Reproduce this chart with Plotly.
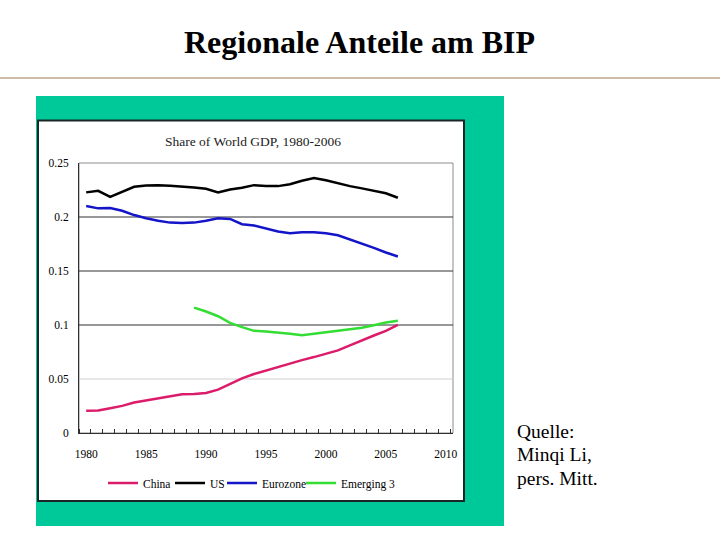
import plotly.graph_objects as go

years = list(range(1980, 2007))
china = [0.0205, 0.0208, 0.0230, 0.0251, 0.0282, 0.0303, 0.0319, 0.0340, 0.0359, 0.0362,
         0.0371, 0.0402, 0.0454, 0.0506, 0.0546, 0.0580, 0.0614, 0.0648, 0.0675, 0.0703,
         0.0731, 0.0765, 0.0811, 0.0860, 0.0903, 0.0946, 0.1002]
us = [0.2228, 0.2243, 0.2187, 0.2233, 0.2280, 0.2292, 0.2295, 0.2289, 0.2283, 0.2274,
      0.2261, 0.2228, 0.2255, 0.2270, 0.2295, 0.2286, 0.2286, 0.2304, 0.2335, 0.2360,
      0.2340, 0.2310, 0.2286, 0.2265, 0.2243, 0.2220, 0.2178]
eurozone = [0.2101, 0.2080, 0.2083, 0.2058, 0.2018, 0.1988, 0.1966, 0.1948, 0.1945, 0.1948,
            0.1966, 0.1988, 0.1982, 0.1933, 0.1921, 0.1896, 0.1865, 0.1850, 0.1859, 0.1859,
            0.1850, 0.1831, 0.1794, 0.1754, 0.1714, 0.1671, 0.1634]
emerging_years = list(range(1989, 2007))
emerging3 = [0.1161, 0.1125, 0.1081, 0.1020, 0.0980, 0.0946, 0.0940, 0.0931, 0.0919, 0.0906,
             0.0919, 0.0931, 0.0946, 0.0956, 0.0974, 0.0998, 0.1023, 0.1039]

x_ticks = [1980, 1985, 1990, 1995, 2000, 2005, 2010]
y_ticks = [0, 0.05, 0.1, 0.15, 0.2, 0.25]
y_tick_text = ["0", "0.05", "0.1", "0.15", "0.2", "0.25"]
source_lines = ["Quelle:", "Minqi Li,", "pers. Mitt."]

W, H = 720, 540
FONT = "Liberation Serif"

def px_x(v):
    return v / W

def px_y(v):
    return 1 - v / H

series = [
    ("China", years, china, "#DC1C6A", 140),
    ("US", years, us, "#000000", 207),
    ("Eurozone", years, eurozone, "#1414C8", 259),
    ("Emerging 3", emerging_years, emerging3, "#33DD33", 338),
]

fig = go.Figure()
legend_layouts = {}
for i, (name, xs, ys, col, text_x) in enumerate(series):
    lg = "legend" if i == 0 else f"legend{i + 1}"
    fig.add_trace(go.Scatter(x=xs, y=ys, mode="lines", name=name, legend=lg,
                             line=dict(color=col, width=2.5)))
    legend_layouts[lg] = dict(x=px_x(text_x - 37), y=px_y(483), xanchor="left",
                              yanchor="middle", bgcolor="rgba(0,0,0,0)",
                              font=dict(family=FONT, size=11.5, color="black"),
                              itemwidth=30)

shapes = []
# green frame
shapes.append(dict(type="rect", xref="paper", yref="paper", x0=px_x(36), x1=px_x(504),
                   y0=px_y(526), y1=px_y(96), fillcolor="#00C999", line=dict(width=0), layer="below"))
# white chart box
shapes.append(dict(type="rect", xref="paper", yref="paper", x0=px_x(38), x1=px_x(464),
                   y0=px_y(501), y1=px_y(120.5), fillcolor="white",
                   line=dict(color="#1a2626", width=2), layer="below"))
# header rule
shapes.append(dict(type="line", xref="paper", yref="paper", x0=0, x1=1,
                   y0=px_y(78), y1=px_y(78), line=dict(color="#9A7A44", width=1)))
# plot area border
shapes.append(dict(type="rect", xref="x domain", yref="y domain", x0=0, x1=1, y0=0, y1=1,
                   line=dict(color="#8c8c8c", width=1), layer="below"))
# grid lines
for v in y_ticks[1:-1]:
    shapes.append(dict(type="line", xref="x domain", yref="y", x0=0, x1=1, y0=v, y1=v,
                       line=dict(color="#cfcfcf" if v < 0.07 else "#303030", width=1),
                       layer="below"))

annotations = [
    dict(text="<b>Regionale Anteile am BIP</b>", xref="paper", yref="paper",
         x=px_x(359), y=px_y(42), xanchor="center", yanchor="middle", showarrow=False,
         font=dict(family=FONT, size=32, color="black")),
    dict(text="Share of World GDP, 1980-2006", xref="paper", yref="paper",
         x=px_x(253), y=px_y(141.5), xanchor="center", yanchor="middle", showarrow=False,
         font=dict(family=FONT, size=13.5, color="#222222")),
]
for k, line in enumerate(source_lines):
    annotations.append(dict(text=line, xref="paper", yref="paper",
                            x=px_x(515), y=px_y(431.5 + 23.3 * k), xanchor="left",
                            yanchor="middle", showarrow=False,
                            font=dict(family=FONT, size=19.5, color="black")))

fig.update_layout(
    width=W, height=H,
    margin=dict(l=0, r=0, t=0, b=0, pad=0, autoexpand=False),
    paper_bgcolor="white", plot_bgcolor="rgba(0,0,0,0)",
    font=dict(family=FONT, color="black"),
    shapes=shapes, annotations=annotations,
    showlegend=True,
    xaxis=dict(domain=[px_x(79), px_x(453)], range=[1979.4, 2010.6], automargin=False,
               tickvals=x_ticks, ticks="", showgrid=False, zeroline=False,
               showline=True, linecolor="#303030", linewidth=1,
               tickfont=dict(family=FONT, size=11.5, color="black"), ticklabelstandoff=10,
               minor=dict(ticks="inside", ticklen=4, tick0=1980.4, dtick=1,
                          tickcolor="#303030", showgrid=False)),
    yaxis=dict(domain=[px_y(433), px_y(163)], range=[0, 0.25], automargin=False,
               tickvals=y_ticks, ticktext=y_tick_text, ticks="", showgrid=False,
               zeroline=False, showline=True, linecolor="#303030", linewidth=1,
               tickfont=dict(family=FONT, size=11.5, color="black"), ticklabelstandoff=7),
    **legend_layouts,
)

fig.write_html("out.html", config={"displayModeBar": False},
               post_script="document.body.style.margin='0';")
